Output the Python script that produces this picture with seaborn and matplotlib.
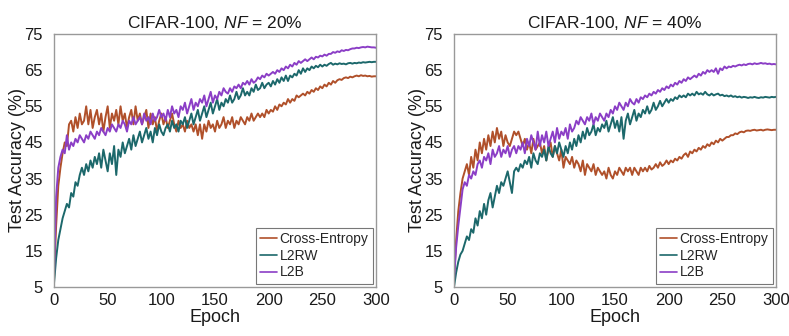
import numpy as np
import pandas as pd
import matplotlib
matplotlib.use("Agg")
import matplotlib.pyplot as plt
import seaborn as sns

epochs = list(range(0, 301, 2))
methods = ["Cross-Entropy", "L2RW", "L2B"]
titles = ["CIFAR-100, $\\mathit{NF}$ = 20%", "CIFAR-100, $\\mathit{NF}$ = 40%"]
x_ticks = [0, 50, 100, 150, 200, 250, 300]
y_ticks = [5, 15, 25, 35, 45, 55, 65, 75]

nf20_ce = [7, 22, 33, 38, 42, 45, 44, 50, 51, 48,
           52, 49, 53, 50, 51, 55, 50, 54, 49, 52,
           54, 50, 53, 48, 52, 55, 49, 53, 51, 54,
           50, 55, 51, 53, 49, 52, 54, 50, 55, 51,
           53, 50, 52, 54, 49, 53, 50, 52, 48, 51,
           53, 50, 52, 49, 51, 53, 50, 48, 51, 49,
           50, 48, 51, 49, 50, 48, 50, 47, 50, 46,
           50, 48, 51, 49, 50, 48, 51, 49, 50, 52,
           49, 51, 50, 52, 49, 51, 50, 52, 51, 50,
           52, 51, 53, 51, 52, 53, 52, 53, 52, 54,
           53, 54, 53.5, 55, 54, 55.5, 55, 56, 55.5, 57,
           56, 57, 56.5, 58, 57.5, 58, 58.5, 58, 59, 58.5,
           59.5, 59, 60, 59.5, 60.5, 60, 61, 60.5, 61.5, 61,
           62, 61.5, 62.2, 62.5, 62.3, 62.8, 63, 62.8, 63.2, 63,
           63.3, 63.5, 63.3, 63.6, 63.4, 63.5, 63.3, 63.4, 63.2, 63.3,
           63.3]
nf20_l2rw = [6, 13, 18, 21, 24, 26, 28, 27, 31, 30,
             34, 33, 36, 38, 36, 39, 37, 40, 38, 41,
             39, 42, 38, 43, 40, 37, 42, 39, 44, 36,
             43, 41, 45, 42, 44, 46, 43, 47, 44, 46,
             48, 45, 47, 49, 46, 48, 45, 49, 47, 50,
             48, 47, 49, 50, 48, 51, 49, 50, 48, 51,
             50, 52, 49, 51, 53, 50, 52, 54, 51, 53,
             55, 52, 54, 56, 53, 55, 57, 54, 56, 55,
             57, 56, 58, 56, 57, 59, 57, 58, 60, 58,
             59, 58, 60, 59, 61, 59.5, 60, 61.5, 60, 61,
             61.5, 60.5, 62, 61, 62.5, 61.5, 63, 62, 63.5, 62,
             63.5, 63, 64, 63.5, 65, 64, 65.5, 64.5, 65.5, 65,
             66, 65.5, 66.2, 65.8, 66.5, 66, 66.5, 66.2, 66.7, 67,
             66.5, 66.8, 66.6, 66.9, 66.7, 66.8, 66.6, 66.9, 67, 66.8,
             67, 66.9, 67.1, 67, 67.2, 67.1, 67.2, 67.3, 67.2, 67.3,
             67.3]
nf20_l2b = [8, 30, 38, 41, 43, 42, 47, 43, 45, 44,
            46, 45, 47, 46, 45, 47, 46, 48, 47, 46,
            48, 47, 49, 48, 47, 49, 48, 50, 49, 48,
            50, 49, 51, 50, 48, 51, 50, 52, 50, 51,
            52, 50, 53, 51, 52, 50, 53, 51, 52, 54,
            52, 53, 51, 54, 52, 55, 53, 54, 52, 55,
            54, 56, 53, 55, 57, 54, 56, 55, 57, 56,
            58, 55, 57, 59, 56, 58, 57, 59, 58, 60,
            59, 58.5, 60, 59, 60.5, 60, 61, 60, 61.5, 61,
            62, 61, 62.5, 61.5, 62, 63, 62.5, 63.5, 63, 64,
            63.5, 64, 64.5, 64, 65, 64.5, 65.5, 65, 66, 65.5,
            66.5, 66, 67, 66.5, 67.5, 67, 67.5, 68, 67.5, 68,
            68.5, 68, 68.7, 68.5, 69, 68.8, 69.3, 69, 69.5, 69.5,
            70, 69.8, 70.2, 70, 70.5, 70.3, 70.6, 70.5, 70.8, 71,
            71, 71.2, 71.1, 71.3, 71.4, 71.3, 71.5, 71.4, 71.3, 71.3,
            71.2]

nf40_ce = [7, 18, 26, 31, 35, 37, 39, 36, 41, 38,
           43, 40, 45, 42, 46, 43, 47, 44, 48, 45,
           49, 46, 48, 44, 47, 45, 44, 46, 48, 47,
           48, 46, 44, 46, 43, 45, 42, 46, 43, 44,
           45, 42, 44, 40, 43, 45, 41, 44, 42, 40,
           43, 38, 41, 40, 39, 41, 38, 40, 39, 37,
           40, 36, 39, 38, 37, 39, 36, 38, 37, 36,
           37, 35, 38, 36, 35, 37, 36, 38, 37, 36,
           38, 37, 38, 36, 38, 37, 36, 38, 37, 38,
           37, 38.5, 37.5, 38, 39, 38, 39.5, 38.5, 39, 40,
           39, 40, 39.5, 40.5, 40, 41, 40.5, 41.5, 42, 41,
           42.5, 42, 43, 42.5, 43.5, 43, 44, 43.5, 44.5, 44,
           45, 44.5, 45.5, 45, 46, 45.5, 46, 46.5, 46.5, 47,
           47, 47.5, 47.3, 47.8, 48, 47.8, 48.2, 48.3, 48.2, 48.4,
           48.5, 48.3, 48.4, 48.5, 48.3, 48.5, 48.6, 48.5, 48.4, 48.5,
           48.5]
nf40_l2rw = [5, 9, 12, 14, 15, 17, 19, 18, 21, 20,
             24, 22, 26, 24, 28, 25, 29, 31, 27, 30,
             33, 31, 34, 33, 35, 37, 34, 31, 37, 38,
             37, 39, 38, 40, 39, 41, 38, 42, 40, 39,
             42, 41, 43, 40, 44, 42, 41, 44, 42, 45,
             43, 41, 44, 42, 45, 43, 46, 44, 47, 45,
             48, 46, 49, 47, 48, 50, 47, 49, 48, 50,
             49, 51, 48, 50, 52, 49, 51, 48, 52, 46,
             51, 53, 50, 52, 54, 51, 53, 52, 54, 53,
             55, 53, 54, 56, 54, 55, 56.5, 55, 56, 57,
             56, 57, 56.5, 57.5, 57, 58, 57.5, 58, 57.5, 58.5,
             58, 58.5, 58, 59, 58.3, 58.6, 58.2, 59, 58.3, 58,
             58.5, 58, 58.3, 58.5, 58, 58.2, 57.8, 58, 57.7, 58,
             57.6, 57.8, 57.5, 57.7, 57.4, 57.6, 57.5, 57.3, 57.5, 57.4,
             57.6, 57.4, 57.3, 57.5, 57.4, 57.6, 57.5, 57.4, 57.6, 57.5,
             57.6]
nf40_l2b = [7, 16, 22, 27, 32, 34, 33, 36, 35, 37,
            36, 39, 40, 38, 41, 40, 42, 39, 43, 41,
            42, 44, 41, 43, 42, 44, 41, 43, 44, 42,
            44, 43, 45, 42, 46, 44, 47, 45, 43, 48,
            44, 47, 45, 48, 44, 46, 48, 45, 49, 46,
            48, 47, 49, 46, 50, 48, 49, 51, 50, 52,
            51, 50, 52, 51, 53, 50, 52, 51, 53, 52,
            51, 53, 52, 54, 53, 55, 54, 56, 55, 54,
            56, 55, 57, 56, 55.5, 57, 56, 57.5, 57, 58,
            57.5, 58.5, 58, 59, 58.5, 59.5, 59, 60, 59.5, 60.5,
            60, 61, 60.5, 61.5, 61, 62, 61.5, 62.5, 62, 63,
            62.5, 63, 63.5, 63, 64, 63.5, 64.5, 64, 65, 64.5,
            65, 64.5, 65.5, 64, 65.5, 65, 66, 65.5, 66, 65.8,
            66.2, 66, 66.3, 66.5, 66.3, 66.6, 66.4, 66.7, 66.8, 66.6,
            66.9, 66.7, 66.8, 67, 66.8, 66.9, 66.7, 66.8, 66.6, 66.7,
            66.6]

panels = [
    {"Cross-Entropy": nf20_ce, "L2RW": nf20_l2rw, "L2B": nf20_l2b},
    {"Cross-Entropy": nf40_ce, "L2RW": nf40_l2rw, "L2B": nf40_l2b},
]
palette = {"Cross-Entropy": "#B0502A", "L2RW": "#1C686B", "L2B": "#8B3EC6"}

sns.set_theme(style="white")
plt.rcParams["font.family"] = ["Liberation Sans", "DejaVu Sans"]
plt.rcParams["mathtext.fontset"] = "custom"
plt.rcParams["mathtext.it"] = "Liberation Sans:italic"
plt.rcParams["mathtext.rm"] = "Liberation Sans"

fig = plt.figure(figsize=(7.89, 3.36), dpi=100)
lefts = [54 / 789, 454 / 789]
w = 322 / 789
bottom = 1 - 287 / 336
h = 253 / 336

for i, (panel, title) in enumerate(zip(panels, titles)):
    ax = fig.add_axes([lefts[i], bottom, w, h])
    rows = []
    for m in methods:
        for e, v in zip(epochs, panel[m]):
            rows.append({"Epoch": e, "Accuracy": v, "Method": m})
    df = pd.DataFrame(rows)
    sns.lineplot(data=df, x="Epoch", y="Accuracy", hue="Method",
                 hue_order=methods, palette=palette, linewidth=1.4, ax=ax)
    ax.set_xlim(0, 300)
    ax.set_ylim(5, 75)
    ax.set_xticks(x_ticks)
    ax.set_yticks(y_ticks)
    ax.tick_params(axis="both", labelsize=12, length=0, colors="#1a1a1a")
    ax.tick_params(axis="y", pad=8)
    ax.tick_params(axis="x", pad=4)
    ax.set_xlabel("Epoch", fontsize=13, labelpad=1, color="#1a1a1a")
    ax.set_ylabel("Test Accuracy (%)", fontsize=13, labelpad=-1, color="#1a1a1a")
    ax.set_title(title, fontsize=12.5, pad=4, color="#1a1a1a")
    for s in ax.spines.values():
        s.set_visible(True)
        s.set_color("#999999")
        s.set_linewidth(1.0)
    leg = ax.legend(loc="lower right", fontsize=10, frameon=True, fancybox=False,
                    edgecolor="#555555", handlelength=1.2, handletextpad=0.2,
                    borderpad=0.3, labelspacing=0.2, borderaxespad=0.25)
    leg.get_frame().set_linewidth(0.8)
    for line in leg.get_lines():
        line.set_linewidth(1.2)

fig.savefig("out.png", dpi=100)
